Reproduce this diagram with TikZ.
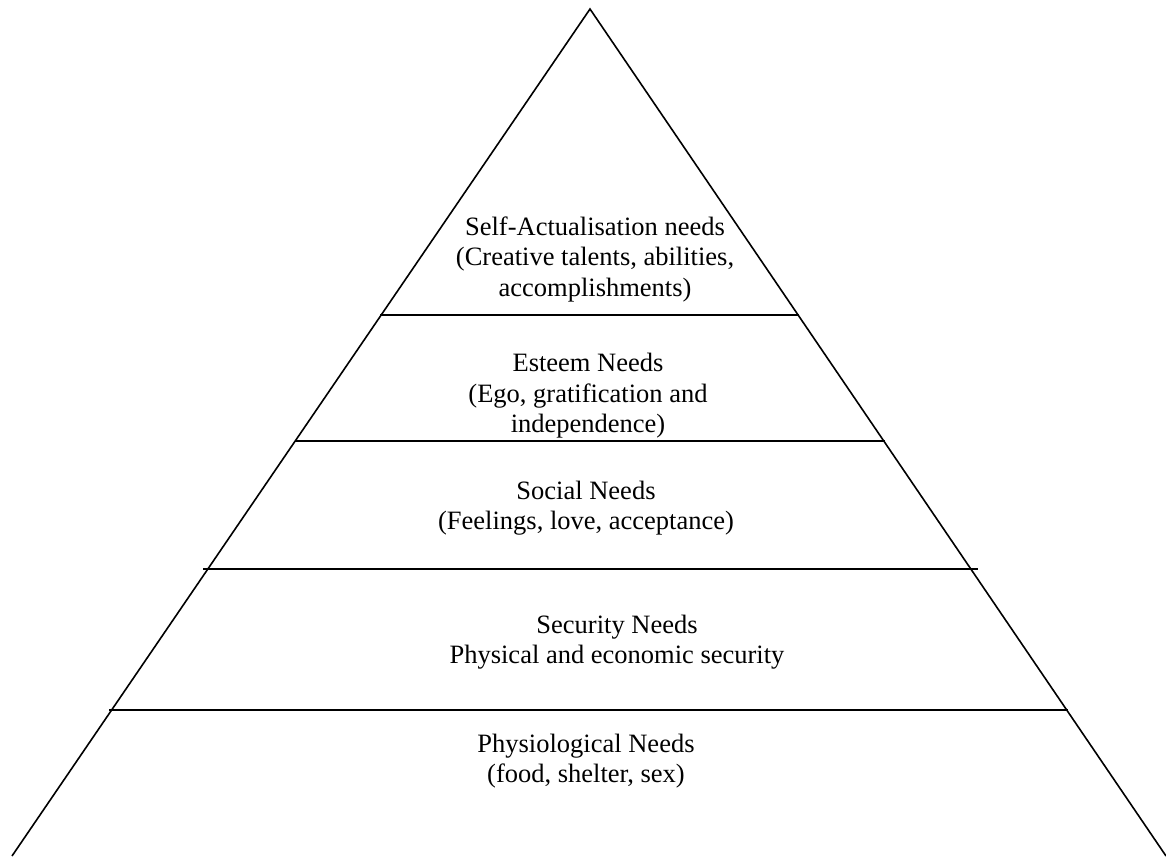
\documentclass[tikz,border=0pt]{standalone}
\usepackage{fontspec}
\setmainfont{Liberation Serif}
\begin{document}
\begin{tikzpicture}[x=1pt,y=-1pt,
  side/.style={line width=1.6pt,black},
  tier/.style={line width=1.3pt,black},
  label/.style={align=center,font=\fontsize{26.5}{30.5}\selectfont,inner sep=0pt}]
\useasboundingbox (0,0) rectangle (1166,856);
\coordinate (apex) at (590,9);
\coordinate (bl) at (12,856);
\coordinate (br) at (1166,856);
\draw[side] (bl) -- (apex) -- (br);
\draw[tier] (380,315) -- (799,315);
\draw[tier] (295,441) -- (885,441);
\draw[tier] (203,569) -- (978,569);
\draw[tier] (109,710) -- (1068,710);
\node[label] (self) at (595,259) {Self-Actualisation needs\\(Creative talents, abilities,\\accomplishments)};
\node[label] (esteem) at (588,396) {Esteem Needs\\(Ego, gratification and\\independence)};
\node[label] (social) at (586,508) {Social Needs\\(Feelings, love, acceptance)};
\node[label] (security) at (617,642) {Security Needs\\Physical and economic security};
\node[label] (physio) at (586,761) {Physiological Needs\\(food, shelter, sex)};
\end{tikzpicture}
\end{document}
